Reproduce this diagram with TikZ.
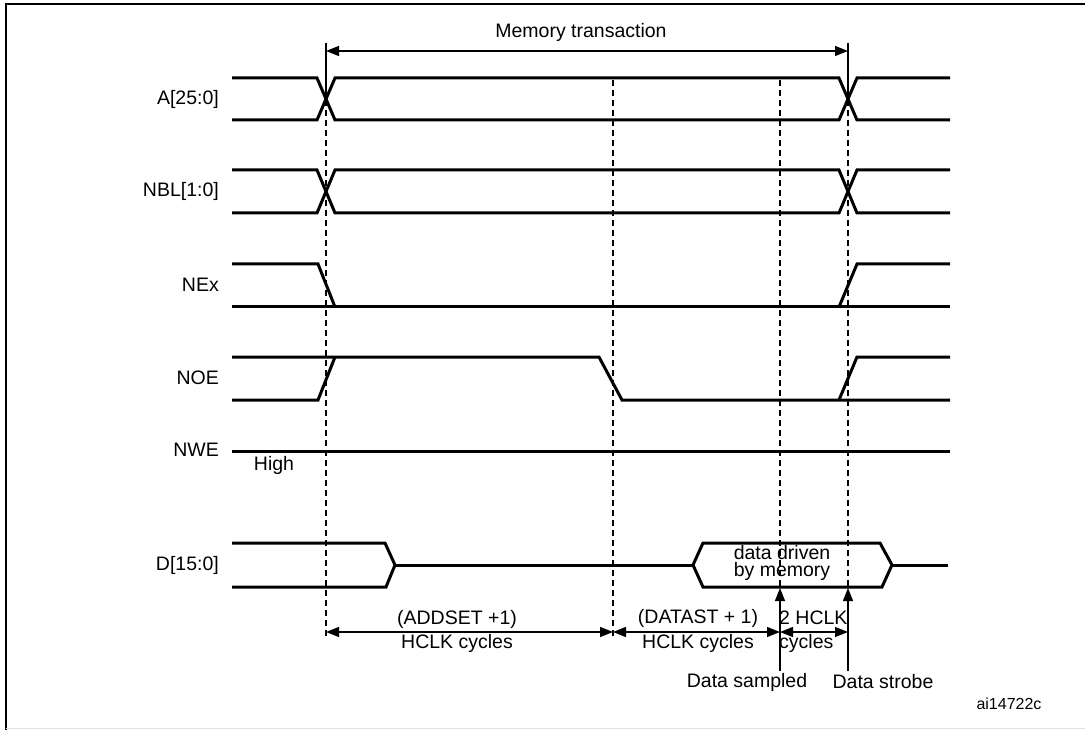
\documentclass[tikz,border=0pt]{standalone}
\usepackage{fontspec}
\setmainfont{Liberation Sans}
\usetikzlibrary{arrows.meta}
\begin{document}
\begin{tikzpicture}[x=1pt,y=-1pt,
  sig/.style={line width=3pt,line join=miter},
  guide/.style={line width=1.4pt,dash pattern=on 6pt off 4pt},
  tick/.style={line width=1.4pt},
  dim/.style={line width=1.4pt,{Triangle[length=13pt,width=10pt]}-{Triangle[length=13pt,width=10pt]}},
  up/.style={line width=1.4pt,-{Triangle[length=13pt,width=10pt]}},
  lbl/.style={font=\fontsize{19.5}{21}\selectfont,inner sep=0pt},
  siglbl/.style={lbl,anchor=east}]
\useasboundingbox (0,0) rectangle (1085,730);
\fill[white] (0,0) rectangle (1085,730);
% frame
\draw[line width=2.5pt] (6,730) -- (6,4) -- (1085,4);
\draw[line width=1pt,black!12] (6,728) -- (1085,728);

% key coordinates
\coordinate (t0) at (326,43);
\coordinate (t1) at (848,43);
\coordinate (x0) at (326,100);
\coordinate (x1) at (848,100);
\coordinate (m0) at (326,51);
\coordinate (m1) at (848,51);

% memory transaction
\node[lbl] (mt) at (581,32) {Memory transaction};
\draw[tick] (t0) -- (x0);
\draw[tick] (t1) -- (x1);
\draw[dim] (m0) -- (m1);

% signal labels
\node[siglbl] (lA) at (219,99) {A[25:0]};
\node[siglbl] (lB) at (219,191) {NBL[1:0]};
\node[siglbl] (lE) at (219,285) {NEx};
\node[siglbl] (lO) at (219,378) {NOE};
\node[siglbl] (lW) at (219,450) {NWE};
\node[siglbl] (lD) at (219,565) {D[15:0]};
\node[lbl] (hi) at (274,465) {High};

% A[25:0]
\draw[sig] (232,78) -- (317,78) -- (335,120) -- (839,120) -- (857,78) -- (950,78);
\draw[sig] (232,120) -- (317,120) -- (335,78) -- (839,78) -- (857,120) -- (950,120);
% NBL[1:0]
\draw[sig] (232,170) -- (317,170) -- (335,213) -- (839,213) -- (857,170) -- (950,170);
\draw[sig] (232,213) -- (317,213) -- (335,170) -- (839,170) -- (857,213) -- (950,213);
% NEx
\draw[sig] (232,264) -- (318,264) -- (335,307);
\draw[sig] (232,307) -- (950,307);
\draw[sig] (839,307) -- (857,264) -- (950,264);
% NOE
\draw[sig] (232,400) -- (318,400) -- (335,357);
\draw[sig] (232,357) -- (599,357) -- (622,400) -- (950,400);
\draw[sig] (839,400) -- (857,357) -- (950,357);
% NWE
\draw[sig] (232,451) -- (950,451);
% D[15:0]
\draw[sig] (232,543) -- (385,543) -- (395,565) -- (386,587) -- (232,587);
\draw[sig] (395,565) -- (693,565);
\draw[sig] (693,565) -- (703,543) -- (880,543) -- (892,565) -- (882,587) -- (703,587) -- cycle;
\draw[sig] (892,565) -- (948,565);
\node[lbl,align=center,font=\fontsize{19.5}{17}\selectfont] (dd) at (782,563) {data driven\\by memory};

% guide lines
\coordinate (g0a) at (326,100);  \coordinate (g0b) at (326,638);
\coordinate (g1a) at (613,80);   \coordinate (g1b) at (613,638);
\coordinate (g2a) at (780,80);   \coordinate (g2b) at (780,587);
\coordinate (g3a) at (848,100);  \coordinate (g3b) at (848,587);
\draw[guide] (g0a) -- (g0b);
\draw[guide] (g1a) -- (g1b);
\draw[guide] (g2a) -- (g2b);
\draw[guide] (g3a) -- (g3b);

% cycle dimensions
\coordinate (d0) at (326,632);
\coordinate (d1) at (613,632);
\coordinate (d2) at (780,632);
\coordinate (d3) at (848,632);
\draw[dim] (d0) -- (d1);
\draw[dim] (d1) -- (d2);
\draw[dim] (d2) -- (d3);
\node[lbl] (a1) at (457,619) {(ADDSET +1)};
\node[lbl] (a2) at (457,643) {HCLK cycles};
\node[lbl] (b1) at (698,618) {(DATAST + 1)};
\node[lbl] (b2) at (698,643) {HCLK cycles};
\node[lbl,anchor=west] (c1) at (779,618) {2 HCLK};
\node[lbl,anchor=west] (c2) at (779,643) {cycles};

% sample / strobe arrows
\coordinate (s0) at (780,671);
\coordinate (s1) at (780,588);
\coordinate (r0) at (848,671);
\coordinate (r1) at (848,588);
\draw[up] (s0) -- (s1);
\draw[up] (r0) -- (r1);
\node[lbl] (ds) at (747,682) {Data sampled};
\node[lbl] (dt) at (883,682) {Data strobe};

\node[inner sep=0pt,font=\fontsize{16}{18}\selectfont] (ai) at (1009,704) {ai14722c};
\end{tikzpicture}
\end{document}
